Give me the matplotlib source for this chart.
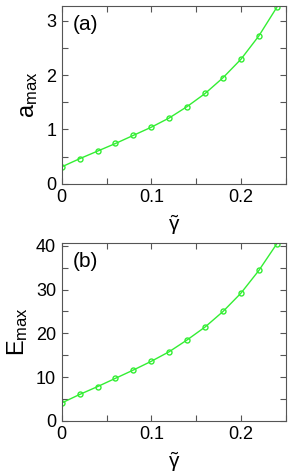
import matplotlib.pyplot as plt
from matplotlib.ticker import MultipleLocator

plt.rcParams["font.family"] = ["Liberation Sans", "DejaVu Sans"]
plt.rcParams["mathtext.fontset"] = "custom"
plt.rcParams["mathtext.rm"] = "Liberation Sans"
plt.rcParams["mathtext.it"] = "Liberation Sans"

# values
gamma = [0.0, 0.02, 0.04, 0.06, 0.08, 0.10, 0.12, 0.14, 0.16, 0.18, 0.20, 0.22, 0.24]
a_max = [0.31, 0.46, 0.60, 0.74, 0.89, 1.04, 1.21, 1.42, 1.66, 1.95, 2.29, 2.72, 3.245]
E_max = [4.05, 6.0, 7.8, 9.7, 11.6, 13.6, 15.8, 18.5, 21.45, 25.0, 29.2, 34.4, 40.5]

green = "#33ee33"
spine = "#555555"

fig = plt.figure(figsize=(2.91, 4.74), dpi=100)
ax1 = fig.add_axes([0.212, 0.6124, 0.770, 0.375])
ax2 = fig.add_axes([0.212, 0.1125, 0.770, 0.375])

panels = [
    (ax1, a_max, r"$\mathrm{a}_{\mathrm{max}}$", "(a)", 3.27, 0.5, 1),
    (ax2, E_max, r"$\mathrm{E}_{\mathrm{max}}$", "(b)", 40.7, 5, 10),
]

for ax, vals, ylab, tag, ytop, yminor, ymajor in panels:
    ax.plot(gamma, vals, color=green, lw=1.0, marker="o", ms=3.6,
            mfc="none", mec=green, mew=1.0)
    ax.set_xlim(0, 0.25)
    ax.set_ylim(0, ytop)
    ax.xaxis.set_major_locator(MultipleLocator(0.1))
    ax.xaxis.set_minor_locator(MultipleLocator(0.05))
    ax.yaxis.set_major_locator(MultipleLocator(ymajor))
    ax.yaxis.set_minor_locator(MultipleLocator(yminor))
    ax.tick_params(which="both", direction="in", top=True, right=True,
                   color=spine, width=0.8)
    ax.tick_params(which="major", length=4, labelsize=13, pad=4)
    ax.tick_params(which="minor", length=4)
    ax.xaxis.set_major_formatter(plt.FuncFormatter(lambda v, p: "0" if v == 0 else f"{v:g}"))
    for s in ax.spines.values():
        s.set_color(spine)
        s.set_linewidth(0.8)
    ax.set_xlabel(r"$\tilde{\gamma}$", fontsize=15, labelpad=5)
    ax.set_ylabel(ylab, fontsize=17, labelpad=4)
    ax.text(0.05, 0.895, tag, transform=ax.transAxes, fontsize=15,
            ha="left", va="center")

fig.savefig("out.png", dpi=100)
